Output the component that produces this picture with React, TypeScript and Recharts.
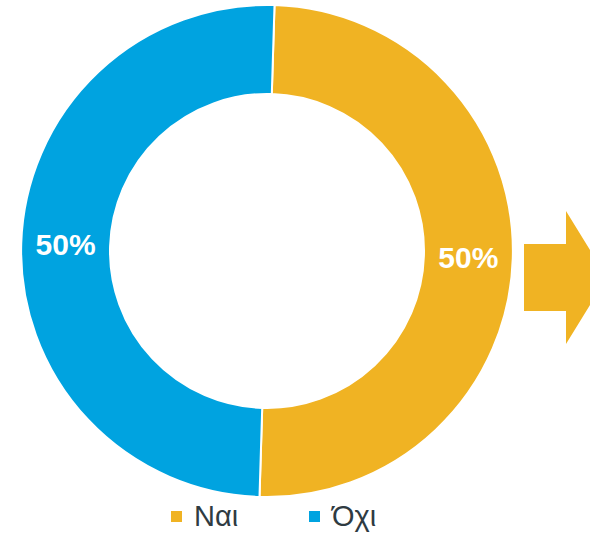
import { PieChart, Pie, Cell, Legend, Customized } from 'recharts'

const categories = ['Ναι', 'Όχι']
const shares = [50, 50]
const colors = ['#F0B323', '#00A3E0']

const data = categories.map((name, i) => ({ name, value: shares[i] }))

const RAD = Math.PI / 180

function renderLabel(props: any) {
  const { cx, cy, midAngle, innerRadius, outerRadius, value } = props
  const r = (innerRadius + outerRadius) / 2
  const x = cx + r * Math.cos(-midAngle * RAD)
  const y = cy + r * Math.sin(-midAngle * RAD)
  return (
    <text
      x={x}
      y={y}
      fill="#fff"
      textAnchor="middle"
      dominantBaseline="central"
      style={{ fontFamily: 'Liberation Sans, Arial, sans-serif', fontSize: 30, fontWeight: 'bold' }}
    >
      {value}%
    </text>
  )
}

// decorative arrow on the right edge
function Arrow() {
  return (
    <polygon
      points="524,244 566,244 566,211 607,277.5 566,344 566,311 524,311"
      fill="#F0B323"
    />
  )
}

const legendLeft = [171, 309]

function LegendContent({ payload }: any) {
  // keep legend in category order
  const items = [...(payload || [])].sort(
    (a: any, b: any) => categories.indexOf(a.value) - categories.indexOf(b.value)
  )
  return (
    <div style={{ position: 'relative', height: 34 }}>
      {items.map((p: any, i: number) => (
        <div key={p.value} style={{ position: 'absolute', left: legendLeft[i], top: 0, display: 'flex', alignItems: 'center' }}>
          <span style={{ width: 11, height: 11, background: colors[categories.indexOf(p.value)], display: 'inline-block', marginRight: 12 }} />
          <span style={{ fontFamily: 'Liberation Sans, Arial, sans-serif', fontSize: 29, color: '#2F3B42', lineHeight: '34px' }}>
            {p.value}
          </span>
        </div>
      ))}
    </div>
  )
}

export default function App() {
  return (
    <div style={{ position: 'absolute', left: 0, top: 0, width: 590, height: 534, background: '#fff' }}>
      <PieChart width={590} height={534} margin={{ top: 0, right: 0, bottom: 0, left: 0 }}>
        <Pie
          data={data}
          dataKey="value"
          nameKey="name"
          cx={267}
          cy={251}
          innerRadius={157}
          outerRadius={246}
          startAngle={88.25}
          endAngle={-271.75}
          stroke="#fff"
          strokeWidth={2}
          label={renderLabel}
          labelLine={false}
          isAnimationActive={false}
        >
          {data.map((d, i) => (
            <Cell key={d.name} fill={colors[i]} />
          ))}
        </Pie>
        <Customized component={<Arrow />} />
        <Legend
          content={<LegendContent />}
          wrapperStyle={{ position: 'absolute', left: 0, top: 499, width: 590 }}
        />
      </PieChart>
    </div>
  )
}
